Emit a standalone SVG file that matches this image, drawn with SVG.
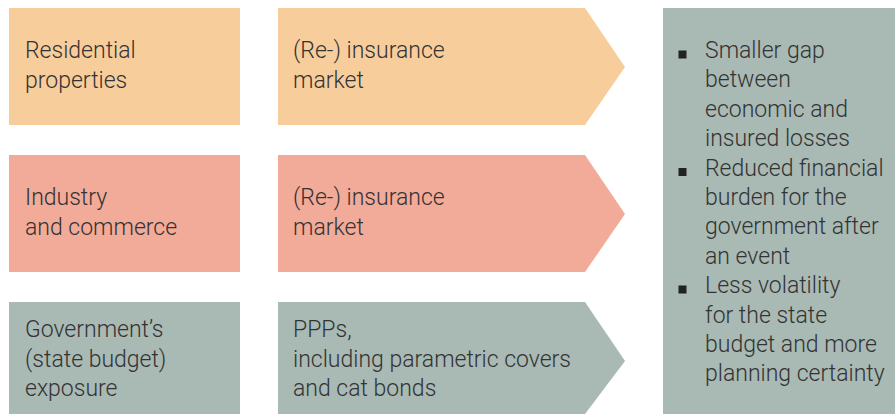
<svg xmlns="http://www.w3.org/2000/svg" width="895" height="414" viewBox="0 0 895 414">
<style>
text{font-family:Roboto,"Liberation Sans",Arial,sans-serif;font-weight:300;font-size:23px;fill:#333333}
.o{fill:#f8cd9c}
.r{fill:#f2aa99}
.g{fill:#a9b9b4}
.b{fill:#222222}
</style>
<rect width="895" height="414" fill="#ffffff"/>
<g id="residential">
<rect class="o" x="9" y="8" width="231" height="117"/>
<text x="25" y="58">Residential</text>
<text x="25" y="87.5">properties</text>
</g>
<g id="market1">
<polygon class="o" points="278,8 585,8 625,67 585,125 278,125"/>
<text x="293" y="58">(Re-) insurance</text>
<text x="293" y="87.5">market</text>
</g>
<g id="industry">
<rect class="r" x="9" y="155" width="231" height="117"/>
<text x="25" y="205">Industry</text>
<text x="25" y="234.5">and commerce</text>
</g>
<g id="market2">
<polygon class="r" points="278,155 585,155 625,214 585,272 278,272"/>
<text x="293" y="205">(Re-) insurance</text>
<text x="293" y="234.5">market</text>
</g>
<g id="government">
<rect class="g" x="9" y="302" width="231" height="112"/>
<text x="25" y="337">Government’s</text>
<text x="25" y="366.5">(state budget)</text>
<text x="25" y="396">exposure</text>
</g>
<g id="ppps">
<polygon class="g" points="278,302 585,302 625,361 585,414 278,414"/>
<text x="293" y="337">PPPs,</text>
<text x="293" y="366.5">including parametric covers</text>
<text x="293" y="396">and cat bonds</text>
</g>
<g id="outcomes">
<rect class="g" x="663" y="8" width="232" height="406"/>
<rect class="b" x="678.5" y="50.5" width="8" height="8"/>
<rect class="b" x="678.5" y="168" width="8" height="8"/>
<rect class="b" x="678.5" y="285.5" width="8" height="8"/>
<text x="705" y="58">Smaller gap</text>
<text x="705" y="87.4">between</text>
<text x="705" y="116.8">economic and</text>
<text x="705" y="146.2">insured losses</text>
<text x="705" y="175.6">Reduced financial</text>
<text x="705" y="205">burden for the</text>
<text x="705" y="234.4">government after</text>
<text x="705" y="263.8">an event</text>
<text x="705" y="293.2">Less volatility</text>
<text x="705" y="322.6">for the state</text>
<text x="705" y="352">budget and more</text>
<text x="705" y="381.4">planning certainty</text>
</g>
<g id="connectors"></g>
</svg>
